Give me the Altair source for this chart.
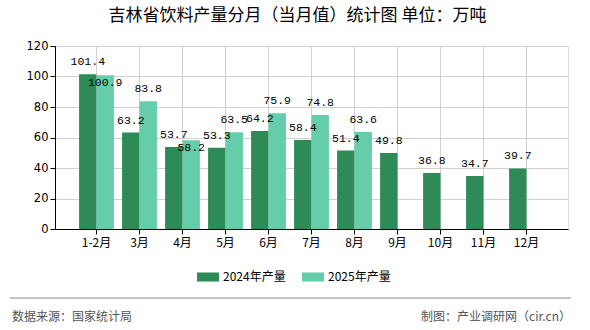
import altair as alt
import pandas as pd

months = ["1-2月", "3月", "4月", "5月", "6月", "7月", "8月", "9月", "10月", "11月", "12月"]
series_names = ["2024年产量", "2025年产量"]
v2024 = [101.4, 63.2, 53.7, 53.3, 64.2, 58.4, 51.4, 49.8, 36.8, 34.7, 39.7]
v2025 = [100.9, 83.8, 58.2, 63.5, 75.9, 74.8, 63.6, None, None, None, None]
colors = ["#2E8B57", "#66CDAA"]
title_text = "吉林省饮料产量分月（当月值）统计图 单位：万吨"
source_text = "数据来源：国家统计局"
maker_text = "制图：产业调研网（cir.cn）"

rows = []
for i, m in enumerate(months):
    a = v2024[i]
    b = v2025[i]
    rows.append({"month": m, "series": series_names[0], "value": a, "shift": False})
    if b is not None:
        rows.append({"month": m, "series": series_names[1], "value": b,
                     "shift": abs(b - a) < 6})
df = pd.DataFrame(rows)

CJK = "Noto Sans CJK SC"

x_enc = alt.X("month:N", sort=months,
              scale=alt.Scale(paddingInner=0.19, paddingOuter=0.56),
              axis=alt.Axis(title=None, labelAngle=0, grid=True, bandPosition=0.5,
                            gridColor="#d0d0d0", domainColor="#000", tickColor="#000",
                            tickSize=5, labelPadding=3, labelFont=CJK, labelFontSize=12,
                            labelColor="#000"))
xo_enc = alt.XOffset("series:N", sort=series_names)
y_enc = alt.Y("value:Q", scale=alt.Scale(domain=[0, 120], nice=False),
              axis=alt.Axis(title=None, values=[0, 20, 40, 60, 80, 100, 120],
                            gridColor="#d0d0d0", domainColor="#000", tickColor="#000",
                            tickSize=5, labelPadding=2, labelFont="DejaVu Sans",
                            labelFontSize=11.5, labelColor="#000"))

base = alt.Chart(df)

bars = base.mark_bar().encode(
    x=x_enc, xOffset=xo_enc, y=y_enc,
    color=alt.Color("series:N", sort=series_names,
                    scale=alt.Scale(domain=series_names, range=colors),
                    legend=alt.Legend(title=None, orient="none", direction="horizontal",
                                      legendX=142, legendY=220,
                                      symbolType="M-1,-0.41L1,-0.41L1,0.41L-1,0.41Z",
                                      symbolSize=484, symbolStrokeWidth=0,
                                      labelFont=CJK, labelFontSize=12, labelColor="#000",
                                      labelOffset=4, columnPadding=16)),
)

labels_up = base.transform_filter("!datum.shift").mark_text(
    dy=-12, baseline="middle", font="Liberation Mono", fontSize=11.5, color="#000"
).encode(x=x_enc, xOffset=xo_enc, y=y_enc, text=alt.Text("value:Q", format=".1f"))

labels_down = base.transform_filter("datum.shift").mark_text(
    dy=8, baseline="middle", font="Liberation Mono", fontSize=11.5, color="#000"
).encode(x=x_enc, xOffset=xo_enc, y=y_enc, text=alt.Text("value:Q", format=".1f"))

one = alt.Data(values=[{}])
footer_line = alt.Chart(one).mark_rule(color="#888", strokeWidth=1).encode(
    x=alt.value(-45), x2=alt.value(516), y=alt.value(252))
source = alt.Chart(one).mark_text(align="left", baseline="middle", font=CJK,
                                  fontSize=12, color="#555").encode(
    x=alt.value(-43), y=alt.value(271), text=alt.value(source_text))
maker = alt.Chart(one).mark_text(align="right", baseline="middle", font=CJK,
                                 fontSize=12, color="#555").encode(
    x=alt.value(516), y=alt.value(271), text=alt.value(maker_text))

chart = alt.layer(bars, labels_up, labels_down, footer_line, source, maker).properties(
    width=513, height=183,
    autosize=alt.AutoSizeParams(type="none"),
    padding={"left": 55, "top": 46, "right": 22, "bottom": 101},
    title=alt.Title(title_text, font=CJK, fontSize=17, fontWeight="normal",
                    color="#000", anchor="middle", dx=-14, offset=15),
).configure_view(stroke="#d0d0d0").configure(background="white")

chart.save("out.html", embed_options={"renderer": "svg", "actions": False})
